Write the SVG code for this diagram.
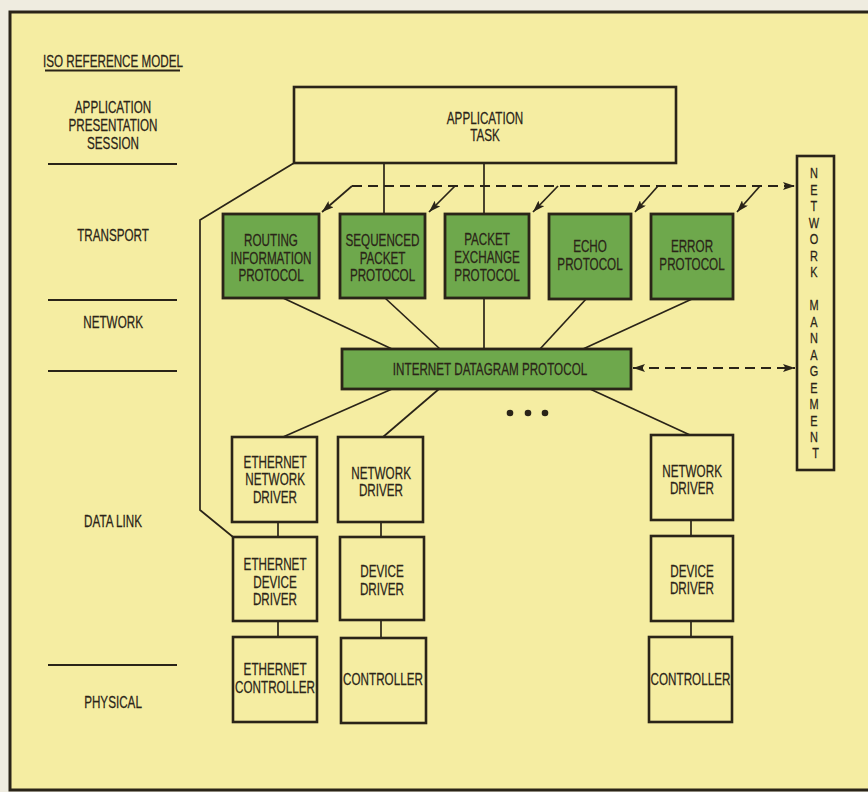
<svg xmlns="http://www.w3.org/2000/svg" width="868" height="792" viewBox="0 0 868 792">
  <style>
    .t { font-family: "Liberation Sans", Arial, sans-serif; font-size: 16px; fill: #2a2418; stroke: #2a2418; stroke-width: 0.25; text-anchor: middle; transform-box: fill-box; transform-origin: center; transform: scaleX(0.73); }
    .box { fill: none; stroke: #2a2418; stroke-width: 2.6; }
    .g { fill: #6ea84c; stroke: #2a2418; stroke-width: 2.8; }
    .ln { stroke: #2a2418; stroke-width: 1.7; fill: none; }
    .dash { stroke: #2a2418; stroke-width: 1.8; fill: none; stroke-dasharray: 10 6; }
    .rule { stroke: #2a2418; stroke-width: 1.8; }
  </style>
  <defs>
    <marker id="ah" markerUnits="userSpaceOnUse" markerWidth="12" markerHeight="8" refX="12" refY="4" orient="auto-start-reverse">
      <path d="M0,0 L12,4 L0,8 L2.5,4 z" fill="#2a2418"/>
    </marker>
  </defs>

  <rect x="0" y="0" width="868" height="792" fill="#efece0"/>
  <rect x="10" y="12" width="870" height="778" fill="#f5eda2" stroke="#2a2418" stroke-width="3"/>

  <g id="iso-model">
    <text class="t" x="113" y="67">ISO REFERENCE MODEL</text>
    <line class="rule" x1="45" y1="70.5" x2="180" y2="70.5"/>
    <text class="t" x="113" y="113">APPLICATION</text>
    <text class="t" x="113" y="131">PRESENTATION</text>
    <text class="t" x="113" y="149">SESSION</text>
    <line class="rule" x1="48" y1="164" x2="177" y2="164"/>
    <text class="t" x="113" y="241">TRANSPORT</text>
    <line class="rule" x1="48" y1="300" x2="177" y2="300"/>
    <text class="t" x="113" y="328">NETWORK</text>
    <line class="rule" x1="48" y1="371" x2="177" y2="371"/>
    <text class="t" x="113" y="527">DATA LINK</text>
    <line class="rule" x1="48" y1="665" x2="177" y2="665"/>
    <text class="t" x="113" y="708">PHYSICAL</text>
  </g>

  <g id="connectors">
    <line class="ln" x1="384" y1="163" x2="384" y2="214"/>
    <line class="ln" x1="484" y1="163" x2="484" y2="214"/>
    <polyline class="ln" points="294,163 200,220 200,510 233,537"/>
    <line class="dash" x1="352" y1="186" x2="795" y2="186" marker-end="url(#ah)"/>
    <line class="ln" x1="352" y1="186" x2="322" y2="212" marker-end="url(#ah)"/>
    <line class="ln" x1="455" y1="186" x2="429" y2="212" marker-end="url(#ah)"/>
    <line class="ln" x1="558" y1="186" x2="533" y2="212" marker-end="url(#ah)"/>
    <line class="ln" x1="658" y1="186" x2="635" y2="212" marker-end="url(#ah)"/>
    <line class="ln" x1="760" y1="186" x2="737" y2="212" marker-end="url(#ah)"/>
    <line class="ln" x1="283" y1="298" x2="392" y2="349"/>
    <line class="ln" x1="385" y1="298" x2="440" y2="349"/>
    <line class="ln" x1="484" y1="298" x2="484" y2="349"/>
    <line class="ln" x1="587" y1="298" x2="540" y2="349"/>
    <line class="ln" x1="692" y1="299" x2="583" y2="349"/>
    <line class="dash" x1="633" y1="368" x2="795" y2="368" marker-start="url(#ah)" marker-end="url(#ah)"/>
    <line class="ln" x1="392" y1="389" x2="283" y2="437"/>
    <line class="ln" x1="439" y1="389" x2="383" y2="437"/>
    <line class="ln" x1="590" y1="389" x2="690" y2="435"/>
    <line class="ln" x1="278" y1="522" x2="278" y2="537"/>
    <line class="ln" x1="278" y1="621" x2="278" y2="637"/>
    <line class="ln" x1="381" y1="522" x2="381" y2="537"/>
    <line class="ln" x1="381" y1="620" x2="381" y2="638"/>
    <line class="ln" x1="691" y1="520" x2="691" y2="536"/>
    <line class="ln" x1="691" y1="621" x2="691" y2="637"/>
  </g>

  <g id="ellipsis" fill="#2a2418">
    <circle cx="510" cy="413" r="3.3"/>
    <circle cx="528" cy="413" r="3.3"/>
    <circle cx="545" cy="413" r="3.3"/>
  </g>

  <g id="application-task">
    <rect class="box" x="294" y="87" width="382" height="76"/>
    <text class="t" x="485" y="124">APPLICATION</text>
    <text class="t" x="485" y="141">TASK</text>
  </g>

  <g id="rip">
    <rect class="g" x="223" y="214" width="96" height="84"/>
    <text class="t" x="271" y="246">ROUTING</text>
    <text class="t" x="271" y="264">INFORMATION</text>
    <text class="t" x="271" y="281">PROTOCOL</text>
  </g>
  <g id="spp">
    <rect class="g" x="340" y="214" width="85" height="84"/>
    <text class="t" x="382.5" y="246">SEQUENCED</text>
    <text class="t" x="382.5" y="264">PACKET</text>
    <text class="t" x="382.5" y="281">PROTOCOL</text>
  </g>
  <g id="pep">
    <rect class="g" x="445" y="214" width="84" height="84"/>
    <text class="t" x="487" y="245">PACKET</text>
    <text class="t" x="487" y="263">EXCHANGE</text>
    <text class="t" x="487" y="281">PROTOCOL</text>
  </g>
  <g id="echo">
    <rect class="g" x="549" y="214" width="82" height="85"/>
    <text class="t" x="590" y="252">ECHO</text>
    <text class="t" x="590" y="270">PROTOCOL</text>
  </g>
  <g id="error">
    <rect class="g" x="651" y="214" width="82" height="85"/>
    <text class="t" x="692" y="252">ERROR</text>
    <text class="t" x="692" y="270">PROTOCOL</text>
  </g>

  <g id="network-management">
    <rect class="box" x="797" y="156" width="37" height="314"/>
    <text class="t" style="font-size:15px">
      <tspan x="815.5" y="178.5">N</tspan>
      <tspan x="815.5" y="195">E</tspan>
      <tspan x="815.5" y="211.5">T</tspan>
      <tspan x="815.5" y="228">W</tspan>
      <tspan x="815.5" y="244.5">O</tspan>
      <tspan x="815.5" y="261">R</tspan>
      <tspan x="815.5" y="277.5">K</tspan>
      <tspan x="815.5" y="310.5">M</tspan>
      <tspan x="815.5" y="326.9">A</tspan>
      <tspan x="815.5" y="343.4">N</tspan>
      <tspan x="815.5" y="359.8">A</tspan>
      <tspan x="815.5" y="376.3">G</tspan>
      <tspan x="815.5" y="392.7">E</tspan>
      <tspan x="815.5" y="409.2">M</tspan>
      <tspan x="815.5" y="425.6">E</tspan>
      <tspan x="815.5" y="442.1">N</tspan>
      <tspan x="815.5" y="458.5">T</tspan>
    </text>
  </g>

  <g id="idp">
    <rect class="g" x="342" y="349" width="289" height="40"/>
    <text class="t" x="490" y="375">INTERNET DATAGRAM PROTOCOL</text>
  </g>

  <g id="ethernet-network-driver">
    <rect class="box" x="232" y="437" width="85" height="85"/>
    <text class="t" x="275" y="468">ETHERNET</text>
    <text class="t" x="275" y="485">NETWORK</text>
    <text class="t" x="275" y="503">DRIVER</text>
  </g>
  <g id="network-driver-1">
    <rect class="box" x="338" y="437" width="85" height="85"/>
    <text class="t" x="381" y="479">NETWORK</text>
    <text class="t" x="381" y="496">DRIVER</text>
  </g>
  <g id="network-driver-n">
    <rect class="box" x="651" y="435" width="82" height="85"/>
    <text class="t" x="692" y="477">NETWORK</text>
    <text class="t" x="692" y="494">DRIVER</text>
  </g>

  <g id="ethernet-device-driver">
    <rect class="box" x="233" y="537" width="84" height="84"/>
    <text class="t" x="275" y="570">ETHERNET</text>
    <text class="t" x="275" y="588">DEVICE</text>
    <text class="t" x="275" y="605">DRIVER</text>
  </g>
  <g id="device-driver-1">
    <rect class="box" x="340" y="537" width="84" height="83"/>
    <text class="t" x="382" y="577">DEVICE</text>
    <text class="t" x="382" y="595">DRIVER</text>
  </g>
  <g id="device-driver-n">
    <rect class="box" x="651" y="536" width="82" height="85"/>
    <text class="t" x="692" y="577">DEVICE</text>
    <text class="t" x="692" y="594">DRIVER</text>
  </g>

  <g id="ethernet-controller">
    <rect class="box" x="233" y="637" width="84" height="85"/>
    <text class="t" x="275" y="675">ETHERNET</text>
    <text class="t" x="275" y="693">CONTROLLER</text>
  </g>
  <g id="controller-1">
    <rect class="box" x="341" y="638" width="85" height="85"/>
    <text class="t" x="383" y="685">CONTROLLER</text>
  </g>
  <g id="controller-n">
    <rect class="box" x="649" y="637" width="83" height="85"/>
    <text class="t" x="690.5" y="685">CONTROLLER</text>
  </g>
</svg>
